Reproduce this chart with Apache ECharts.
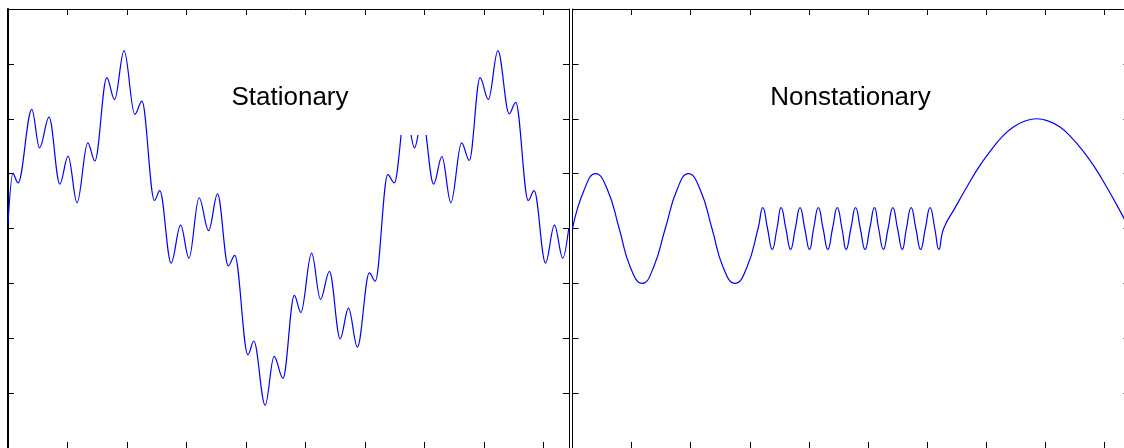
<!DOCTYPE html>
<html>
<head>
<meta charset="utf-8">
<script src="https://cdn.jsdelivr.net/npm/echarts@6/dist/echarts.min.js"></script>
<style>
  html, body { margin: 0; padding: 0; background: #ffffff; overflow: hidden; }
  /* the right frame of the second panel sits just past the window edge */
  #chart { width: 1140px; height: 448px; }
</style>
</head>
<body>
<div id="chart"></div>
<script>
// Stationary signal: turning points (x in radians, y in signal units)
const stationaryX = [0, 0.08, 0.17, 0.40, 0.53, 0.69, 0.87, 1.01, 1.16, 1.34, 1.46, 1.66, 1.79, 1.95, 2.13,
  2.25, 2.46, 2.55, 2.74, 2.90, 3.04, 3.21, 3.37, 3.52, 3.70, 3.81, 4.03, 4.13, 4.32, 4.47, 4.62, 4.81,
  4.92, 5.10, 5.25, 5.40, 5.58, 5.72, 5.87, 6.07, 6.17, 6.38, 6.49, 6.68, 6.83, 6.96, 7.15, 7.29, 7.44,
  7.62, 7.75, 7.93, 8.07, 8.23, 8.42, 8.53, 8.74, 8.84, 9.03, 9.18, 9.32, 9.42];
const stationaryY = [0.10, 1.00, 0.83, 2.17, 1.47, 2.03, 0.81, 1.32, 0.47, 1.56, 1.23, 2.75, 2.35, 3.24, 2.08,
  2.32, 0.51, 0.69, -0.63, 0.06, -0.54, 0.56, -0.04, 0.63, -0.68, -0.49, -2.30, -2.05, -3.22, -2.33, -2.73, -1.22,
  -1.53, -0.45, -1.29, -0.78, -2.01, -1.45, -2.16, -0.81, -0.96, 0.98, 0.83, 2.17, 1.47, 2.03, 0.81, 1.31, 0.47,
  1.56, 1.24, 2.75, 2.35, 3.24, 2.09, 2.30, 0.51, 0.69, -0.63, 0.06, -0.54, 0.00];

// Nonstationary signal: slow wave, fast small wave, then one wide arch
const nonstationaryX = [0, 0.20, 0.39, 0.59, 0.79, 0.98, 1.18, 1.37, 1.57, 1.77, 1.96, 2.16, 2.36, 2.55, 2.75, 2.95, 3.14,
  3.22, 3.30, 3.38, 3.46, 3.53, 3.61, 3.69, 3.77, 3.85, 3.93, 4.01, 4.08, 4.16, 4.24, 4.32, 4.40, 4.48, 4.56, 4.63,
  4.71, 4.79, 4.87, 4.95, 5.03, 5.11, 5.18, 5.26, 5.34, 5.42, 5.50, 5.58, 5.65, 5.73, 5.81, 5.89, 5.97, 6.05, 6.13, 6.20,
  6.28, 6.48, 6.68, 6.87, 7.07, 7.26, 7.46, 7.66, 7.85, 8.05, 8.25, 8.44, 8.64, 8.84, 9.03, 9.23, 9.42];
const nonstationaryY = [0, 0.71, 1, 0.71, 0, -0.71, -1, -0.71, 0, 0.71, 1, 0.71, 0, -0.71, -1, -0.71, 0,
  0.38, 0, -0.38, 0, 0.38, 0, -0.38, 0, 0.38, 0, -0.38, 0, 0.38, 0, -0.38, 0, 0.38, 0, -0.38,
  0, 0.38, 0, -0.38, 0, 0.38, 0, -0.38, 0, 0.38, 0, -0.38, 0, 0.38, 0, -0.38, 0, 0.38, 0, -0.38,
  0, 0.39, 0.77, 1.11, 1.41, 1.66, 1.85, 1.96, 2, 1.96, 1.85, 1.66, 1.41, 1.11, 0.77, 0.39, 0];

const panelTitles = ['Stationary', 'Nonstationary'];

const X_MAX = 3 * Math.PI;
const zip = (xs, ys) => xs.map((x, i) => [x, ys[i]]);

const innerTick = { show: true, inside: true, length: 6, lineStyle: { color: '#000000', width: 1 } };
const frameLine = (w) => ({ show: true, onZero: false, lineStyle: { color: '#000000', width: w } });

function xAxisFor(gridIndex, position) {
  return {
    type: 'value', gridIndex, position, min: 0, max: X_MAX, interval: 1,
    axisLine: frameLine(1), axisTick: innerTick, axisLabel: { show: false }, splitLine: { show: false }
  };
}
function yAxisFor(gridIndex, position, w) {
  return {
    type: 'value', gridIndex, position, min: -4, max: 4, interval: 1,
    axisLine: frameLine(w), axisTick: innerTick, axisLabel: { show: false }, splitLine: { show: false }
  };
}

const titleFont = { fontFamily: '"Liberation Sans", Arial, Helvetica, sans-serif', fontSize: 26, fill: '#000000' };

const chart = echarts.init(document.getElementById('chart'), null, { renderer: 'canvas' });
chart.setOption({
  animation: false,
  backgroundColor: '#ffffff',
  grid: [
    { left: 8, top: 9, width: 561, height: 442 },
    { left: 572.5, top: 9, width: 557, height: 442 }
  ],
  xAxis: [xAxisFor(0, 'bottom'), xAxisFor(0, 'top'), xAxisFor(1, 'bottom'), xAxisFor(1, 'top')],
  yAxis: [yAxisFor(0, 'left', 2), yAxisFor(0, 'right', 1), yAxisFor(1, 'left', 1), yAxisFor(1, 'right', 1)],
  series: [
    {
      type: 'line', xAxisIndex: 0, yAxisIndex: 0,
      data: zip(stationaryX, stationaryY),
      showSymbol: false, smooth: 0.36, smoothMonotone: 'x',
      lineStyle: { color: '#0000ff', width: 1.2 }
    },
    {
      type: 'line', xAxisIndex: 2, yAxisIndex: 2,
      data: zip(nonstationaryX, nonstationaryY),
      showSymbol: false, smooth: 0.5,
      lineStyle: { color: '#0000ff', width: 1.2 }
    }
  ],
  graphic: [
    // white backing box of the left text object
    { type: 'rect', z: 100, shape: { x: 396, y: 95, width: 34, height: 40 }, style: { fill: '#ffffff' } },
    { type: 'text', z: 101, x: 290, y: 98, style: Object.assign({ text: panelTitles[0], align: 'center', verticalAlign: 'middle' }, titleFont) },
    { type: 'text', z: 101, x: 850.5, y: 98, style: Object.assign({ text: panelTitles[1], align: 'center', verticalAlign: 'middle' }, titleFont) }
  ]
});
</script>
</body>
</html>
